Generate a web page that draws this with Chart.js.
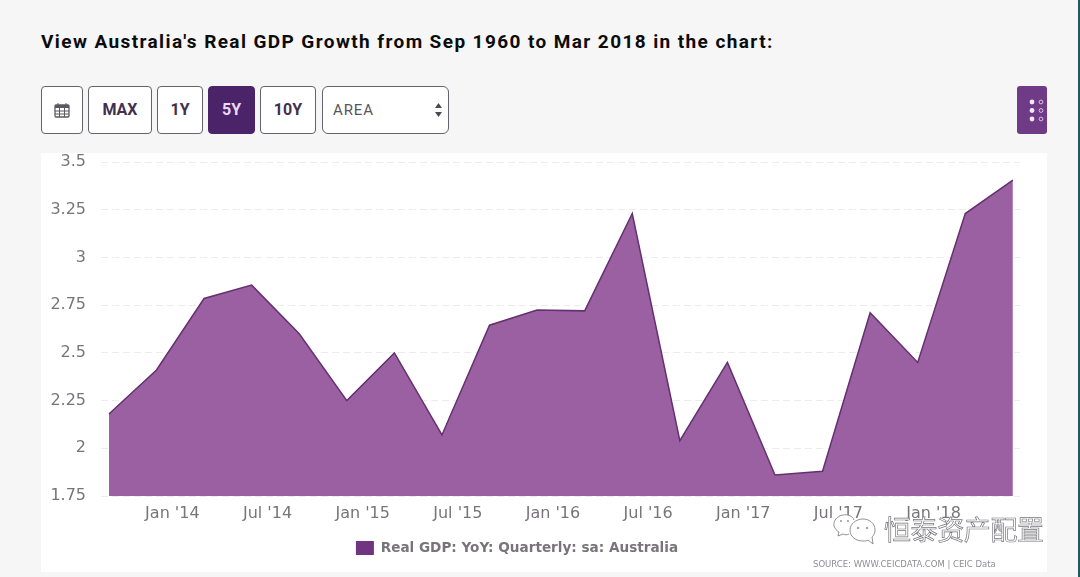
<!DOCTYPE html>
<html>
<head>
<meta charset="utf-8">
<script src="https://cdn.jsdelivr.net/npm/chart.js@4"></script>
<style>
  html, body { margin: 0; padding: 0; }
  body { width: 1080px; height: 577px; background: #f6f6f6; position: relative; overflow: hidden; font-family: Roboto, sans-serif; }
  #edge { position: absolute; left: 1078px; top: 0; width: 2px; height: 577px; background: #1f5a60; }
  h1 { position: absolute; left: 41px; top: 30px; margin: 0; font-size: 19px; font-weight: 700; letter-spacing: 1.4px; color: #0c0c0c; white-space: nowrap; }
  .btn { position: absolute; top: 86px; height: 46px; box-sizing: content-box; border: 1px solid #66626a; border-radius: 4px; background: #fff; color: #43304f; font-size: 16px; font-weight: 700; line-height: 46px; text-align: center; }
  #b5y { background: #4a2369; border-color: #4a2369; color: #ecd9f2; }
  #type { font-weight: 400; text-align: left; padding-left: 10px; color: #59555d; font-size: 15px; letter-spacing: 0.9px; border-radius: 6px; }
  #type svg { position: absolute; left: 111px; top: 16px; }
  #menu { position: absolute; left: 1017px; top: 86px; width: 30px; height: 48px; border-radius: 3px; background: #6f3a86; }
  #card { position: absolute; left: 41px; top: 153px; width: 1006px; height: 419px; background: #fff; }
  #chart { position: absolute; left: 0; top: 0; }
  #source { position: absolute; left: 813px; top: 559px; font-family: "DejaVu Sans", sans-serif; font-size: 8.5px; color: #8f8f93; white-space: nowrap; }
  #mark { position: absolute; left: 884px; top: 513px; font-family: "Noto Sans CJK SC", sans-serif; font-size: 27px; line-height: 32px; color: #fff; -webkit-text-stroke: 0.7px #77757a; white-space: nowrap; letter-spacing: -0.4px; }
  #wechat { position: absolute; left: 832px; top: 513px; }
</style>
</head>
<body>
<div id="edge"></div>
<h1>View Australia's Real GDP Growth from Sep 1960 to Mar 2018 in the chart:</h1>

<div class="btn" style="left:41px;width:40px">
  <svg width="16" height="16" viewBox="0 0 16 16" style="margin-top:15px">
    <rect x="1" y="3" width="14" height="12" rx="1" fill="none" stroke="#5c5860" stroke-width="1.3"/>
    <rect x="1" y="3" width="14" height="3" fill="#5c5860"/>
    <path d="M4 1v3M12 1v3M1 9h14M1 12h14M5.5 6v9M10.5 6v9" stroke="#5c5860" stroke-width="1" fill="none"/>
  </svg>
</div>
<div class="btn" style="left:88px;width:62px">MAX</div>
<div class="btn" style="left:157px;width:44px">1Y</div>
<div class="btn" id="b5y" style="left:208px;width:45px">5Y</div>
<div class="btn" style="left:260px;width:54px">10Y</div>
<div class="btn" id="type" style="left:322px;width:115px">AREA
  <svg width="9" height="14" viewBox="0 0 9 14"><path d="M4.5 0L8 5H1zM4.5 14L1 9h7z" fill="#4a4a55"/></svg>
</div>
<div id="menu">
  <svg width="30" height="48" viewBox="0 0 30 48">
    <g fill="#f6e6fa"><circle cx="15" cy="16" r="2.4"/><circle cx="15" cy="24.5" r="2.4"/><circle cx="15" cy="33" r="2.4"/></g>
    <g fill="none" stroke="#e2cbea" stroke-width="0.9"><circle cx="24" cy="16" r="1.9"/><circle cx="24" cy="24.5" r="1.9"/><circle cx="24" cy="33" r="1.9"/></g>
  </svg>
</div>

<div id="card"></div>
<canvas id="chart" width="1080" height="577"></canvas>
<div id="source">SOURCE: WWW.CEICDATA.COM | CEIC Data</div>

<svg id="wechat" width="46" height="34" viewBox="0 0 46 34" fill="#fff" stroke="#77757a" stroke-width="0.8">
  <path d="M22 7C21 3 15 1 11 2C5 3 1 8 2 13C3 16 5 18 7 19L6 23L11 21C13 22 15 22 17 21"/>
  <path d="M43 17C43 10 37 6 31 6C24 6 18 11 18 17C18 24 24 28 31 28C33 28 35 28 36 27L41 31L40 24C42 22 43 20 43 17Z"/>
  <circle cx="26" cy="15" r="0.8"/><circle cx="35" cy="15" r="0.8"/>
  <circle cx="9" cy="8" r="0.6"/><circle cx="16" cy="8" r="0.6"/>
</svg>
<div id="mark">恒泰资产配置</div>

<script>
// months counted from Jan 2014, one point per quarter
const monthOffsets = [-4, -1, 2, 5, 8, 11, 14, 17, 20, 23, 26, 29, 32, 35, 38, 41, 44, 47, 50, 53];
const gdpGrowth = [2.18, 2.41, 2.785, 2.855, 2.6, 2.25, 2.5, 2.07, 2.645, 2.725, 2.72, 3.23, 2.04, 2.45, 1.86, 1.88, 2.71, 2.45, 3.23, 3.405];
const xTickMonths = [0, 6, 12, 18, 24, 30, 36, 42, 48];
const xTickLabels = ["Jan '14", "Jul '14", "Jan '15", "Jul '15", "Jan '16", "Jul '16", "Jan '17", "Jul '17", "Jan '18"];
const yTicks = [1.75, 2, 2.25, 2.5, 2.75, 3, 3.25, 3.5];
const seriesName = "Real GDP: YoY: Quarterly: sa: Australia";

const tickFont = { family: "'DejaVu Sans', sans-serif", size: 16 };

window.onload = () => {
  new Chart(document.getElementById("chart").getContext("2d"), {
    type: "line",
    data: {
      datasets: [{
        label: seriesName,
        data: monthOffsets.map((month, i) => ({ x: month, y: gdpGrowth[i] })),
        borderColor: "#64306f",
        borderWidth: 1.5,
        backgroundColor: "#9b60a2",
        fill: "start",
        tension: 0,
        pointRadius: 0,
      }],
    },
    options: {
      responsive: false,
      animation: false,
      layout: { padding: { top: 162, left: 14, right: 60, bottom: 12 } },
      plugins: {
        tooltip: { enabled: false },
        legend: {
          position: "bottom",
          labels: {
            font: { family: "'DejaVu Sans', sans-serif", size: 13.6, weight: "bold" },
            color: "#77757a",
            boxWidth: 18,
            boxHeight: 14,
            padding: 10,
            generateLabels: () => [{ text: seriesName, fillStyle: "#6f3580", strokeStyle: "#6f3580", lineWidth: 0, fontColor: "#77757a" }],
          },
        },
      },
      scales: {
        x: {
          type: "linear",
          min: -4.5,
          max: 53.45,
          afterBuildTicks: (scale) => { scale.ticks = xTickMonths.map((value) => ({ value })); },
          afterFit: (scale) => { scale.height = 35; },
          grid: { display: false },
          border: { display: false },
          ticks: {
            autoSkip: false,
            maxRotation: 0,
            padding: 0,
            font: tickFont,
            color: "#77757a",
            callback: (value) => xTickLabels[xTickMonths.indexOf(value)],
          },
        },
        y: {
          min: 1.75,
          max: 3.5,
          afterBuildTicks: (scale) => { scale.ticks = yTicks.map((value) => ({ value })); },
          afterFit: (scale) => { scale.width = 87; },
          grid: { color: "#ececee", drawTicks: false },
          border: { display: false, dash: [7, 4] },
          ticks: {
            padding: 15,
            font: tickFont,
            color: "#77757a",
            callback: (value) => String(value),
          },
        },
      },
    },
  });
};
</script>
</body>
</html>
